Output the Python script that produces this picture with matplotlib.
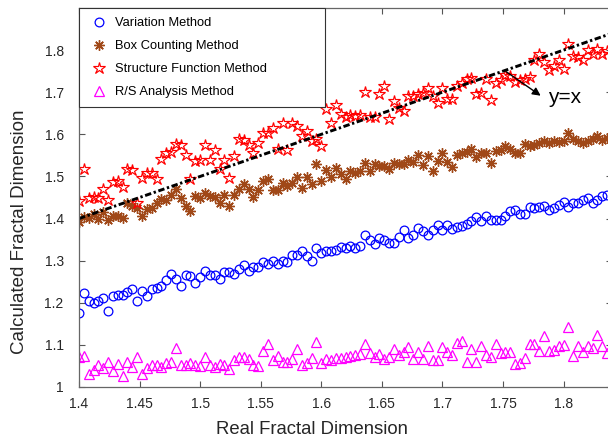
import numpy as np
import matplotlib
matplotlib.use('Agg')
import matplotlib.pyplot as plt

plt.rcParams['font.family'] = ['Liberation Sans', 'DejaVu Sans']

# real fractal dimension grid (110 samples)
real_dim = np.linspace(1.400, 1.836, 110)

variation = [
    1.175, 1.223, 1.205, 1.199, 1.205, 1.211, 1.181, 1.217, 1.218, 1.218,
    1.225, 1.233, 1.205, 1.229, 1.215, 1.232, 1.234, 1.239, 1.255, 1.268,
    1.256, 1.239, 1.265, 1.263, 1.247, 1.261, 1.275, 1.265, 1.267, 1.256,
    1.273, 1.273, 1.268, 1.281, 1.289, 1.275, 1.285, 1.285, 1.296, 1.293,
    1.300, 1.293, 1.300, 1.297, 1.313, 1.314, 1.322, 1.310, 1.300, 1.330,
    1.318, 1.322, 1.324, 1.326,
    1.332, 1.330, 1.336, 1.330, 1.334, 1.360, 1.348, 1.340, 1.354, 1.350,
    1.342, 1.343, 1.356, 1.374, 1.354, 1.362, 1.378, 1.370, 1.362, 1.374,
    1.384, 1.374, 1.384, 1.375, 1.380, 1.383, 1.388, 1.394, 1.403, 1.394,
    1.406, 1.396, 1.397, 1.396, 1.406, 1.417, 1.420, 1.410, 1.412, 1.428,
    1.426, 1.428, 1.431, 1.421, 1.426, 1.433, 1.440, 1.428, 1.437, 1.437,
    1.444, 1.449, 1.437, 1.444, 1.453, 1.457,
]

box_counting = [
    1.392, 1.404, 1.402, 1.410, 1.398, 1.415, 1.396, 1.406, 1.407, 1.402,
    1.436, 1.431, 1.425, 1.407, 1.423, 1.425, 1.437, 1.447, 1.444, 1.457,
    1.469, 1.448, 1.429, 1.419, 1.453, 1.449, 1.461, 1.453, 1.452, 1.437,
    1.457, 1.431, 1.455, 1.471, 1.481, 1.469, 1.452, 1.467, 1.489, 1.494,
    1.467, 1.467, 1.485, 1.477, 1.485, 1.499, 1.473, 1.499, 1.481, 1.529,
    1.489, 1.515, 1.499, 1.521,
    1.505, 1.493, 1.513, 1.509, 1.513, 1.533, 1.513, 1.529, 1.525, 1.525,
    1.517, 1.533, 1.529, 1.529, 1.540, 1.534, 1.550, 1.526, 1.548, 1.513,
    1.536, 1.556, 1.534, 1.522, 1.552, 1.555, 1.558, 1.564, 1.547, 1.555,
    1.556, 1.533, 1.560, 1.563, 1.572, 1.564, 1.556, 1.556, 1.576, 1.572,
    1.574, 1.579, 1.584, 1.580, 1.584, 1.582, 1.584, 1.604, 1.590, 1.584,
    1.579, 1.584, 1.588, 1.596, 1.586, 1.592,
]

structure_function = [
    1.441, 1.517, 1.449, 1.452, 1.449, 1.469, 1.445, 1.486, 1.489, 1.475,
    1.517, 1.515, 1.436, 1.497, 1.509, 1.509, 1.495, 1.542, 1.556, 1.558,
    1.576, 1.574, 1.550, 1.493, 1.536, 1.539, 1.574, 1.540,
    1.563, 1.517, 1.540, 1.497, 1.548, 1.590, 1.586, 1.574, 1.555, 1.579,
    1.604, 1.602, 1.614, 1.566, 1.628, 1.563, 1.626, 1.620, 1.596, 1.608,
    1.584, 1.590,
    1.572, 1.660, 1.626, 1.669, 1.648, 1.642, 1.645, 1.644, 1.645, 1.701,
    1.640, 1.642, 1.695, 1.714, 1.637, 1.679, 1.663, 1.655, 1.690, 1.691,
    1.695, 1.698, 1.709, 1.690, 1.674, 1.709, 1.683, 1.685, 1.714, 1.723,
    1.731, 1.733, 1.695, 1.699, 1.731, 1.682, 1.721, 1.729, 1.740, 1.739,
    1.725, 1.729, 1.731, 1.735, 1.777, 1.790, 1.772, 1.753, 1.763, 1.777,
    1.755, 1.814, 1.785, 1.783, 1.777, 1.801, 1.790, 1.802, 1.790, 1.798,
]

rs_analysis = [
    1.071, 1.073, 1.031, 1.040, 1.052, 1.046, 1.060, 1.038, 1.055, 1.025,
    1.060, 1.048, 1.071, 1.031, 1.046, 1.052, 1.052, 1.048, 1.056, 1.060,
    1.092, 1.052, 1.052, 1.056, 1.052, 1.050, 1.072, 1.052, 1.047, 1.055,
    1.052, 1.043, 1.063, 1.071, 1.072, 1.066, 1.052, 1.051, 1.086, 1.102,
    1.063, 1.073, 1.060, 1.060, 1.066, 1.090, 1.052, 1.056, 1.070, 1.106,
    1.057, 1.066, 1.064, 1.068,
    1.068, 1.072, 1.074, 1.076, 1.078, 1.102, 1.080, 1.071, 1.078, 1.067,
    1.071, 1.090, 1.075, 1.082, 1.096, 1.066, 1.084, 1.067, 1.098, 1.064,
    1.064, 1.094, 1.084, 1.076, 1.104, 1.110, 1.060, 1.090, 1.060, 1.098,
    1.075, 1.072, 1.102, 1.080, 1.084, 1.083, 1.055, 1.058, 1.070, 1.102,
    1.102, 1.086, 1.121, 1.086, 1.088, 1.098, 1.100, 1.142, 1.074, 1.098,
    1.084, 1.098, 1.092, 1.124, 1.098, 1.080,
]

ref_line = [1.40, 1.84]
x_ticks = [1.4, 1.45, 1.5, 1.55, 1.6, 1.65, 1.7, 1.75, 1.8]
y_ticks = [1, 1.1, 1.2, 1.3, 1.4, 1.5, 1.6, 1.7, 1.8]

fig = plt.figure(figsize=(6.08, 4.42), dpi=100)
ax = fig.add_axes([79 / 608, 55 / 442, 533 / 608, 379 / 442])

ax.plot(real_dim, variation, 'o', ms=6.3, mfc='none', mec='#0000FF', mew=0.9,
        label='Variation Method')
ax.plot(real_dim, box_counting, ls='none', marker=(8, 2, 0), ms=7.5,
        mec='#A04818', mew=1.0, label='Box Counting Method')
ax.plot(real_dim, structure_function, '*', ms=9, mfc='none', mec='#FF0000',
        mew=0.85, label='Structure Function Method')
ax.plot(real_dim, rs_analysis, '^', ms=7, mfc='none', mec='#FF00FF', mew=0.9,
        label='R/S Analysis Method')

# y = x reference line
ax.plot(ref_line, ref_line, color='black', lw=2.1,
        ls=(0, (2.2, 0.9, 0.8, 0.9)), label='_nolegend_')
ax.annotate('', xy=(1.783, 1.688), xytext=(1.751, 1.752),
            arrowprops=dict(arrowstyle='-|>', color='black', lw=1,
                            mutation_scale=12))
ax.text(1.787, 1.687, 'y=x', fontsize=15, va='center', ha='left')

ax.set_xlim(1.4, 1.84)
ax.set_ylim(1, 1.9)
ax.set_xticks(x_ticks)
ax.set_xticklabels(['1.4', '1.45', '1.5', '1.55', '1.6', '1.65', '1.7', '1.75', '1.8'])
ax.set_yticks(y_ticks)
ax.set_yticklabels(['1', '1.1', '1.2', '1.3', '1.4', '1.5', '1.6', '1.7', '1.8'])

ax.tick_params(direction='in', length=4, width=0.8, color='#555555',
               labelcolor='#262626', labelsize=10, top=True, right=True)
ax.tick_params(axis='x', pad=7)
ax.tick_params(axis='y', pad=11)
for sp in ax.spines.values():
    sp.set_color('#666666')
    sp.set_linewidth(0.9)

fig.text(312 / 608, 1 - 430 / 442, 'Real Fractal Dimension', ha='center',
         va='center', fontsize=13.3, color='#262626')
fig.text(20 / 608, 1 - 232 / 442, 'Calculated Fractal Dimension', ha='center',
         va='center', rotation=90, fontsize=13.5, color='#262626')

leg = ax.legend(loc='upper left', bbox_to_anchor=(0, 0.739, 0.4615, 0.261),
                mode='expand', borderaxespad=0, fancybox=False,
                edgecolor='#333333', framealpha=1, fontsize=9.3,
                labelspacing=0.85, borderpad=0.7, handlelength=1.7,
                handletextpad=0.4, numpoints=1)
leg.get_frame().set_linewidth(0.8)
leg.set_zorder(5)

fig.savefig('out.png', dpi=100)
